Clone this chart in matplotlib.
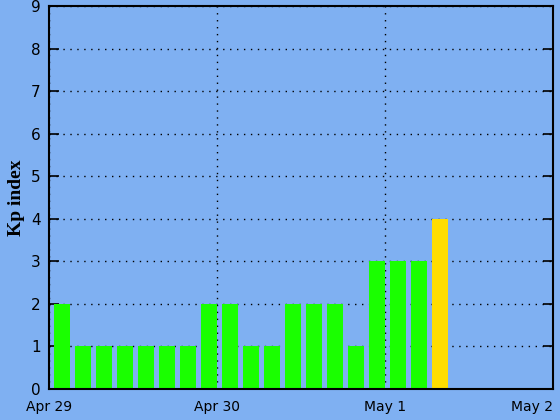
import matplotlib
matplotlib.use("Agg")
import matplotlib.pyplot as plt
import numpy as np

day_labels = ["Apr 29", "Apr 30", "May 1", "May 2"]
kp_values = [2, 1, 1, 1, 1, 1, 1, 2, 2, 1, 1, 2, 2, 2, 1, 3, 3, 3, 4]
bar_colors = ["#1aff00"] * 18 + ["#ffdd00"]

bg = "#7fb0f2"
fig = plt.figure(figsize=(5.6, 4.2), dpi=100, facecolor=bg)
ax = fig.add_axes([49/560, 31/420, 504/560, 383/420], facecolor=bg)

n = len(kp_values)
starts = np.arange(n) * 0.125  # days
width = 0.125 * 0.76
ax.bar(starts + 0.125 - width, kp_values, width=width, align="edge",
       color=bar_colors, edgecolor="none", zorder=2)

ax.set_xlim(0, 3)
ax.set_ylim(0, 9)
ax.set_xticks(range(4))
ax.set_xticklabels(day_labels, family="DejaVu Sans", fontsize=10)
lbls = ax.get_xticklabels()
lbls[-1].set_horizontalalignment("right")
lbls[-1].set_x(3)
ax.set_yticks(range(10))
ax.set_yticklabels([str(i) for i in range(10)], family="DejaVu Sans", fontsize=11)
centers = starts + 0.125 - width / 2
ax.set_xticks(centers, minor=True)
ax.tick_params(axis="x", which="minor", direction="in", length=8, width=1,
               color=bg, top=False)
ax.tick_params(axis="x", which="major", direction="in", length=0, pad=8)
ax.tick_params(axis="y", which="major", direction="in", length=7, width=1.2,
               right=True, pad=6)
for s in ax.spines.values():
    s.set_linewidth(1.5)
    s.set_zorder(5)
ax.grid(True, which="major", linestyle=(0, (1, 4)), color="black", linewidth=1, zorder=1)
ax.set_axisbelow(True)
ax.set_ylabel("Kp index", family="Liberation Serif", fontweight="bold", fontsize=14, labelpad=4)

fig.savefig("out.png", dpi=100, facecolor=bg)
